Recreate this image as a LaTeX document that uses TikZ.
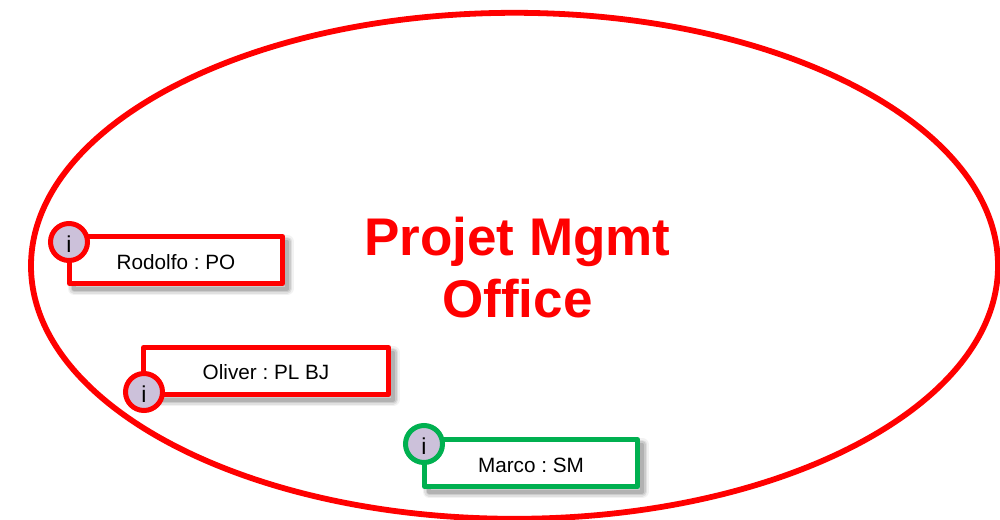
\documentclass[tikz,border=0pt]{standalone}
\usepackage{fontspec}
\setmainfont{Liberation Sans}
\usetikzlibrary{shapes.geometric}
\definecolor{pmored}{RGB}{255,0,0}
\definecolor{pmogreen}{RGB}{0,176,80}
\definecolor{pmoinfo}{RGB}{204,193,218}
\newcommand{\dropbase}[2]{\raisebox{-#1pt}[0pt][0pt]{#2}}
\tikzset{
  softshadow/.style={
    preaction={draw=black,opacity=.05,line width=13pt,transform canvas={shift={(4.5pt,-5pt)}}},
    preaction={draw=black,opacity=.07,line width=10pt,transform canvas={shift={(4.5pt,-5pt)}}},
    preaction={draw=black,opacity=.09,line width=7pt,transform canvas={shift={(4.5pt,-5pt)}}},
    preaction={draw=black,opacity=.12,line width=4pt,transform canvas={shift={(4.5pt,-5pt)}}}},
  rolebox/.style={rectangle,draw=#1,fill=white,line width=5pt,line join=round,
    minimum width=213pt,minimum height=47pt,inner sep=0pt,outer sep=0pt,
    font=\fontsize{20.7pt}{24pt}\selectfont\frenchspacing,text=black,softshadow},
  infodot/.style={circle,draw=#1,fill=pmoinfo,line width=5pt,minimum size=37pt,
    inner sep=0pt,outer sep=0pt,font=\fontsize{23pt}{28pt}\selectfont,text=black},
  officering/.style={ellipse,draw=pmored,line width=5.8pt,minimum width=967pt,minimum height=506pt,
    inner sep=0pt,outer sep=0pt},
  officetitle/.style={align=center,text=pmored,font=\bfseries\fontsize{53pt}{62pt}\selectfont,inner sep=0pt}
}
\begin{document}
\begin{tikzpicture}[x=1pt,y=-1pt]
\useasboundingbox (0,0) rectangle (1000,519);
\clip (0,0) rectangle (1000,519);
\fill[white] (0,0) rectangle (1000,519);
\node[officering] (office) at (514.5,265.8) {};
\node[officetitle] (title) at (517.5,267.5) {Projet Mgmt\\Office};
\node[rolebox=pmored] (rodolfo) at (176,260) {\dropbase{9.3}{Rodolfo : PO}};
\node[infodot=pmored] (irodolfo) at (69,242) {\dropbase{10}{i}};
\node[rolebox=pmored,minimum width=245pt] (oliver) at (266,371) {\dropbase{8.5}{Oliver : PL BJ}};
\node[infodot=pmored] (ioliver) at (144,392) {\dropbase{10}{i}};
\node[rolebox=pmogreen] (marco) at (531,463) {\dropbase{9.3}{Marco : SM}};
\node[infodot=pmogreen] (imarco) at (424,444) {\dropbase{10.5}{i}};
\end{tikzpicture}
\end{document}
